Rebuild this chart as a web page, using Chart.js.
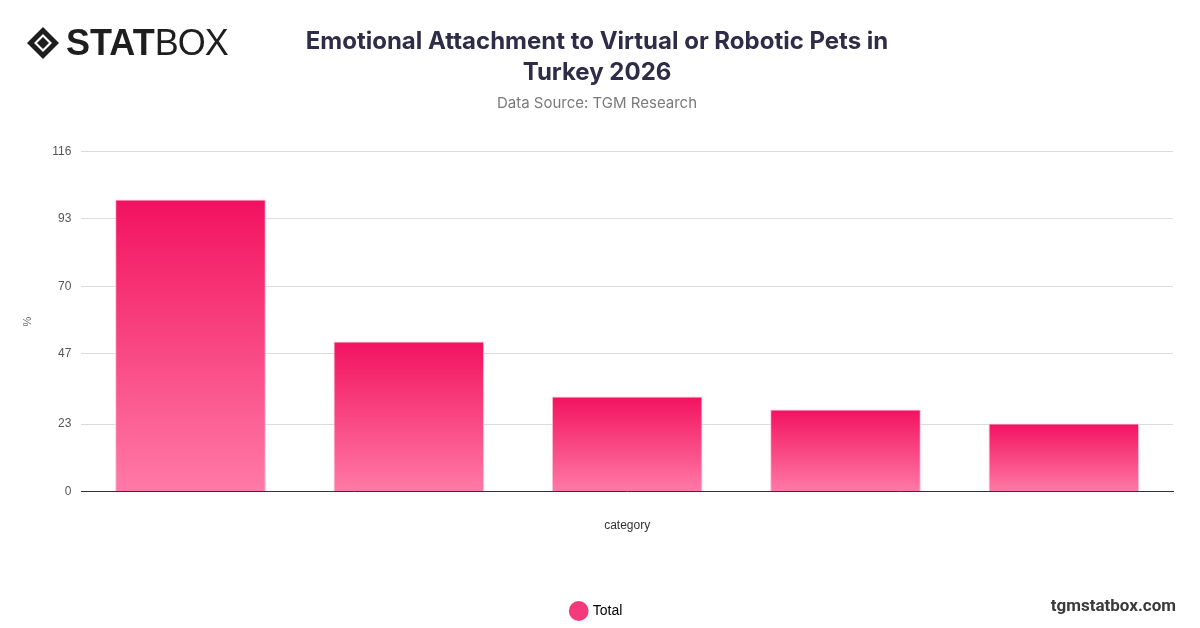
<!DOCTYPE html>
<html>
<head>
<meta charset="utf-8">
<title>Emotional Attachment to Virtual or Robotic Pets in Turkey 2026</title>
<script src="https://cdn.jsdelivr.net/npm/chart.js@4.4.0/dist/chart.umd.min.js"></script>
<style>
    html, body { margin: 0; padding: 0; background: #fff; }
    #wrap { position: relative; width: 1200px; height: 628px; }
    #logo { position: absolute; left: 26px; top: 22px; display: flex; align-items: center; font-family: "Liberation Sans", Arial, sans-serif; color: #1e1e1e; }
    #logo .stat { font-weight: 900; font-size: 36px; letter-spacing: 0px; margin-left: 6px; }
    #logo .box { font-weight: 400; font-size: 36px; letter-spacing: -1px; }
    #site { position: absolute; right: 24px; top: 595px; font-family: Roboto, "Liberation Sans", Arial, sans-serif; font-weight: 700; font-size: 17px; color: #3a3a3a; }
</style>
</head>
<body>
<div id="wrap">
    <canvas id="chart" width="1200" height="628"></canvas>
    <div id="logo">
        <svg width="34" height="34" viewBox="0 0 34 34">
            <path d="M17 1 L33 17 L17 33 L1 17 Z" fill="#1e1e1e"/>
            <path d="M17 8 L26 17 L17 26 L8 17 Z" fill="#fff"/>
            <path d="M17 11 L23 17 L17 23 L11 17 Z" fill="#1e1e1e"/>
        </svg>
        <span class="stat">STAT</span><span class="box">BOX</span>
    </div>
    <div id="site">tgmstatbox.com</div>
</div>
<script>
// Chart data
const categories = ['Category 1', 'Category 2', 'Category 3', 'Category 4', 'Category 5'];
const totalValues = [99.6, 51.2, 32.4, 28.0, 23.2];
const yTicks = [0, 23, 47, 70, 93, 116];
const seriesName = 'Total';

const PINK_TOP = '#f2125f';
const PINK_BOTTOM = '#ff7aa6';

// Per-bar vertical gradient, dark at the top of each bar
function barGradient(context) {
    const chart = context.chart;
    const { ctx, chartArea, scales } = chart;
    if (!chartArea || context.type !== 'data') return PINK_TOP;
    const value = totalValues[context.dataIndex];
    const top = scales.y.getPixelForValue(value);
    const base = scales.y.getPixelForValue(0);
    const g = ctx.createLinearGradient(0, top, 0, base);
    g.addColorStop(0, PINK_TOP);
    g.addColorStop(1, PINK_BOTTOM);
    return g;
}

function createChart(canvasId) {
    const ctx = document.getElementById(canvasId);
    if (!ctx) return null;

    return new Chart(ctx, {
        type: 'bar',
        data: {
            labels: categories,
            datasets: [{
                label: seriesName,
                data: totalValues,
                backgroundColor: barGradient,
                borderColor: 'rgba(255, 190, 215, 0.9)',
                borderWidth: 1,
                categoryPercentage: 1,
                barPercentage: 0.69
            }]
        },
        options: {
            responsive: false,
            animation: false,
            layout: { padding: { left: 21, right: 27, top: 0, bottom: 0 } },
            plugins: {
                title: {
                    display: true,
                    text: ['Emotional Attachment to Virtual or Robotic Pets in', 'Turkey 2026'],
                    color: '#2f2c48',
                    font: { family: 'Inter', size: 24, weight: 'bold', lineHeight: 1.3 },
                    padding: { top: 26, bottom: 6 }
                },
                subtitle: {
                    display: true,
                    text: 'Data Source: TGM Research',
                    color: '#7a7a7a',
                    font: { family: 'Inter', size: 15, weight: 'normal', lineHeight: 1.2 },
                    padding: { top: 0, bottom: 39 }
                },
                legend: {
                    position: 'bottom',
                    labels: {
                        usePointStyle: true,
                        pointStyle: 'circle',
                        boxWidth: 14,
                        boxHeight: 14,
                        padding: 10,
                        color: '#444',
                        font: { family: 'Liberation Sans', size: 14 },
                        generateLabels: (chart) => [{
                            text: seriesName,
                            fillStyle: '#f43a7c',
                            strokeStyle: '#f43a7c',
                            lineWidth: 0,
                            pointStyle: 'circle',
                            datasetIndex: 0
                        }]
                    }
                },
                tooltip: { enabled: false }
            },
            scales: {
                x: {
                    grid: { display: false },
                    border: { display: true, color: '#333', width: 1 },
                    ticks: { display: false },
                    title: {
                        display: true,
                        text: 'category',
                        color: '#333',
                        font: { family: 'Liberation Sans', size: 12 },
                        padding: { top: 19, bottom: 61 }
                    }
                },
                y: {
                    min: 0,
                    max: 116,
                    afterBuildTicks: (axis) => {
                        axis.ticks = yTicks.map(v => ({ value: v }));
                    },
                    grid: { color: '#dcdcdc', drawTicks: true, tickLength: 8, tickColor: '#fff' },
                    border: { display: false },
                    ticks: {
                        color: '#555',
                        font: { family: 'Liberation Sans', size: 12 },
                        padding: 2
                    },
                    title: {
                        display: true,
                        text: '%',
                        color: '#666',
                        font: { family: 'Liberation Sans', size: 11 },
                        padding: { top: 0, bottom: 16 }
                    }
                }
            }
        }
    });
}

createChart('chart');
</script>
</body>
</html>
